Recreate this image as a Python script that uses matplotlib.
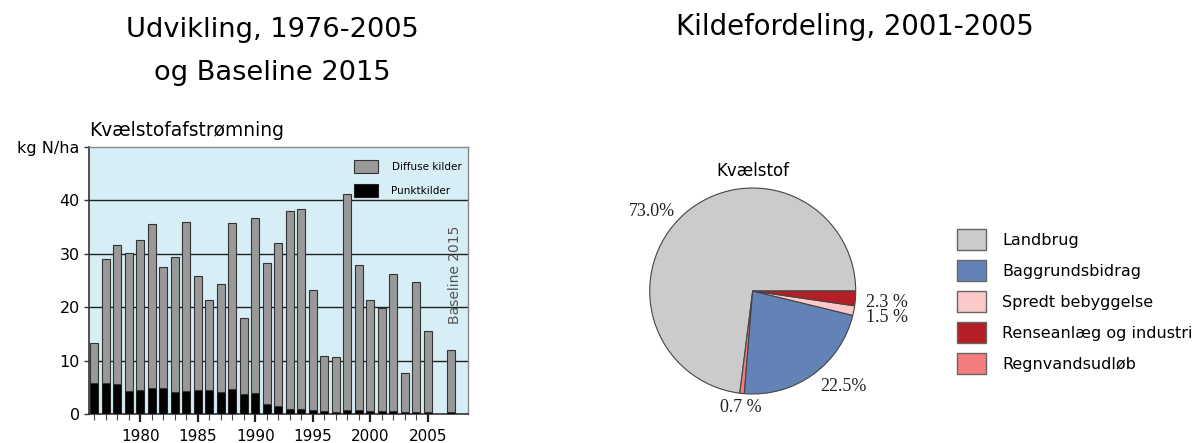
import matplotlib
matplotlib.use("Agg")
import matplotlib.pyplot as plt
import numpy as np
from matplotlib.patches import Patch

plt.rcParams['font.family'] = ['DejaVu Sans']

# ---------------- data ----------------
years = [1976, 1977, 1978, 1979, 1980, 1981, 1982, 1983, 1984, 1985,
         1986, 1987, 1988, 1989, 1990, 1991, 1992, 1993, 1994, 1995,
         1996, 1997, 1998, 1999, 2000, 2001, 2002, 2003, 2004, 2005]
total = [13.3, 29.0, 31.7, 30.2, 32.6, 35.5, 27.5, 29.4, 36.0, 25.8,
         21.3, 24.4, 35.8, 18.0, 36.7, 28.3, 32.0, 38.1, 38.3, 23.3,
         10.8, 10.6, 41.2, 27.9, 21.3, 19.9, 26.2, 7.7, 24.8, 15.6]
punkt = [5.8, 5.8, 5.7, 4.4, 4.5, 4.9, 4.9, 4.2, 4.4, 4.5,
         4.5, 4.2, 4.7, 3.7, 3.9, 1.8, 1.5, 1.0, 1.0, 0.8,
         0.6, 0.4, 0.8, 0.8, 0.6, 0.6, 0.6, 0.3, 0.4, 0.4]
baseline_year = 2007
baseline_total = 12.0
baseline_punkt = 0.3

bar_legend = ['Diffuse kilder', 'Punktkilder']
ytick_vals = [0, 10, 20, 30, 40, 50]
ytick_labels = ['0', '10', '20', '30', '40', 'kg N/ha']
xtick_major = [1980, 1985, 1990, 1995, 2000, 2005]

pie_labels = ['Landbrug', 'Regnvandsudløb', 'Baggrundsbidrag',
              'Spredt bebyggelse', 'Renseanlæg og industri']
pie_values = [73.0, 0.7, 22.5, 1.5, 2.3]
pie_texts = ['73.0%', '0.7 %', '22.5%', '1.5 %', '2.3 %']
pie_colors = ['#cbcbcb', '#f47c7c', '#6383b7', '#fcc9c9', '#b41f25']
legend_order = ['Landbrug', 'Baggrundsbidrag', 'Spredt bebyggelse',
                'Renseanlæg og industri', 'Regnvandsudløb']

W, H = 1196, 443
fig = plt.figure(figsize=(W / 100, H / 100), dpi=100)

def fx(px):
    return px / W

def fy(py):
    return 1 - py / H

# ---------------- titles ----------------
fig.text(fx(272), fy(37), 'Udvikling, 1976-2005', ha='center', va='baseline', fontsize=19.6)
fig.text(fx(272), fy(80), 'og Baseline 2015', ha='center', va='baseline', fontsize=19.6)
fig.text(fx(855), fy(35), 'Kildefordeling, 2001-2005', ha='center', va='baseline', fontsize=19.8)

# ---------------- bar chart ----------------
ax = fig.add_axes([fx(89), 1 - 414 / H, (468 - 89) / W, (414 - 147) / H])
ax.set_facecolor('#d7eef6')
diffuse = [t - p for t, p in zip(total, punkt)]
bw = 0.72
ax.bar(years, punkt, width=bw, color='black', edgecolor='#222222', linewidth=0.8, zorder=3)
ax.bar(years, diffuse, bottom=punkt, width=bw, color='#999999', edgecolor='#333333',
       linewidth=0.8, zorder=3)
ax.bar([baseline_year], [baseline_punkt], width=bw, color='black', edgecolor='#222222',
       linewidth=0.8, zorder=3)
ax.bar([baseline_year], [baseline_total - baseline_punkt], bottom=[baseline_punkt], width=bw,
       color='#999999', edgecolor='#333333', linewidth=0.8, zorder=3)

ax.set_xlim(1975.55, 2008.5)
ax.set_ylim(0, 50)
ax.set_yticks(ytick_vals)
ax.set_yticklabels(ytick_labels, fontsize=11.5)
ax.tick_params(axis='y', length=3.6, width=1, pad=3, color='#333333')
for v in ytick_vals[1:-1]:
    ax.axhline(v, color='#222222', linewidth=1.0, zorder=2)

ax.set_xticks(xtick_major)
ax.set_xticklabels([str(y) for y in xtick_major], fontsize=11)
ax.set_xticks(years, minor=True)
ax.tick_params(axis='x', which='major', length=5.8, width=1.6, pad=5, color='#222222')
ax.tick_params(axis='x', which='minor', length=4.0, width=0.8, color='#444444')

for s in ['left', 'bottom']:
    ax.spines[s].set_color('#333333')
    ax.spines[s].set_linewidth(1.2)
for s in ['top', 'right']:
    ax.spines[s].set_color('#888888')
    ax.spines[s].set_linewidth(1.0)

ax.text(2007.35, 26.1, 'Baseline 2015', rotation=90, ha='center', va='center',
        fontsize=10, color='#555555', zorder=4)

handles = [Patch(facecolor='#999999', edgecolor='#333333', linewidth=0.8),
           Patch(facecolor='black', edgecolor='#222222', linewidth=0.8)]
ax.legend(handles, bar_legend, loc='upper left',
          bbox_to_anchor=((354 - 89) / (468 - 89), (414 - 160) / (414 - 147)),
          frameon=False, fontsize=7.5, handlelength=2.3, handleheight=1.543,
          labelspacing=1.05, handletextpad=1.3, borderpad=0, borderaxespad=0)

fig.text(fx(89), fy(136), 'Kvælstofafstrømning', ha='left', va='baseline', fontsize=13.4)

# ---------------- pie chart ----------------
r = 103
cx, cy = 752.7, 291
pax = fig.add_axes([fx(cx - 1.25 * r), fy(cy + 1.25 * r), 2.5 * r / W, 2.5 * r / H])
wedges, _ = pax.pie(pie_values, colors=pie_colors, startangle=0, counterclock=True,
                    wedgeprops=dict(edgecolor='#444444', linewidth=0.8))
pax.set_aspect('auto')
pax.set_xlim(-1.25, 1.25)
pax.set_ylim(-1.25, 1.25)

label_pos = [(-0.975, 0.77), (-0.12, -1.13), (0.88, -0.93), (1.30, -0.255), (1.30, -0.11)]
for txt, (lx, ly) in zip(pie_texts, label_pos):
    pax.text(lx, ly, txt, ha='center', va='center', fontsize=13,
             family='Liberation Serif', color='#222222')

fig.text(fx(cx), fy(176), 'Kvælstof', ha='center', va='baseline', fontsize=12)

lh = [wedges[pie_labels.index(n)] for n in legend_order]
lhandles = [Patch(facecolor=w.get_facecolor(), edgecolor='#666666', linewidth=1.0) for w in lh]
fig.legend(lhandles, legend_order, loc='upper left', bbox_to_anchor=(fx(957), fy(229)),
           frameon=False, fontsize=11.5, handlelength=1.81, handleheight=1.646,
           labelspacing=0.625, handletextpad=1.0, borderpad=0, borderaxespad=0)

fig.savefig('out.png', dpi=100)
